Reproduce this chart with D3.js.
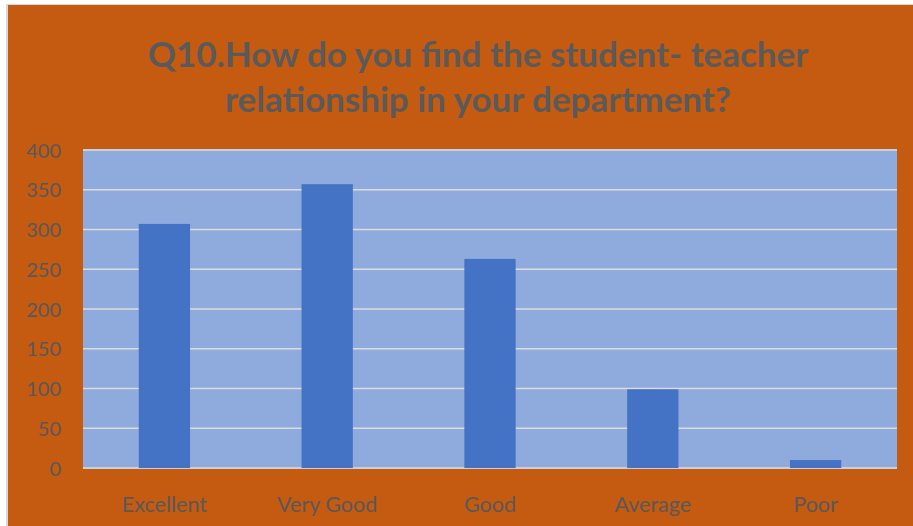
<!DOCTYPE html>
<html><head><meta charset="utf-8">
<script src="https://cdn.jsdelivr.net/npm/d3@7"></script>
<style>html,body{margin:0;padding:0;background:#fff;}svg{display:block;}</style>
</head><body>
<script>
const categories = ["Excellent", "Very Good", "Good", "Average", "Poor"];
const values = [307, 357, 263, 99, 10];
const yTicks = [0, 50, 100, 150, 200, 250, 300, 350, 400];
const titleLines = ["Q10.How do you find the student- teacher", "relationship in your department?"];

const W = 913, H = 526;
const svg = d3.select("body").append("svg").attr("width", W).attr("height", H);
svg.append("rect").attr("width", W).attr("height", H).attr("fill", "#fff");
svg.append("rect").attr("x", 6).attr("y", 4).attr("width", W - 6).attr("height", H - 4).attr("fill", "#d9d9d9");
svg.append("rect").attr("x", 8).attr("y", 5).attr("width", W - 8).attr("height", H - 5).attr("fill", "#C55A11");

const plot = {l: 83, r: 897, t: 150, b: 468};
const x = d3.scaleBand().domain(categories).range([plot.l, plot.r]).padding(0);
const y = d3.scaleLinear().domain([0, 400]).range([plot.b, plot.t]);

svg.append("rect").attr("x", plot.l).attr("y", plot.t - 1).attr("width", plot.r - plot.l).attr("height", plot.b - plot.t + 2).attr("fill", "#8FAADC");

svg.append("g").selectAll("line").data(yTicks).join("line")
  .attr("x1", plot.l).attr("x2", plot.r)
  .attr("y1", d => y(d)).attr("y2", d => y(d))
  .attr("stroke", "#dcdcdc").attr("stroke-width", 1.5);

const bw = x.step() * 0.315;
svg.append("g").selectAll("rect").data(values).join("rect")
  .attr("x", (d, i) => x(categories[i]) + x.bandwidth() / 2 - bw / 2)
  .attr("width", bw)
  .attr("y", d => y(d))
  .attr("height", d => y(0) - y(d))
  .attr("fill", "#4472C4");

const yAxis = d3.axisLeft(y).tickValues(yTicks).tickSize(0).tickPadding(0);
const ya = svg.append("g").attr("transform", `translate(${61},0)`).call(yAxis);
ya.select(".domain").remove();
ya.selectAll("text").attr("fill", "#595959").style("font-family", "Lato, 'Open Sans', sans-serif").style("font-size", "20px").attr("dy", "0.35em");

const xAxis = d3.axisBottom(x).tickSize(0).tickPadding(0);
const xa = svg.append("g").attr("transform", `translate(0,${512})`).call(xAxis);
xa.select(".domain").remove();
xa.selectAll("text").attr("fill", "#595959").style("font-family", "Lato, 'Open Sans', sans-serif").style("font-size", "21.5px").attr("y", 0).attr("dy", 0);

svg.append("g").selectAll("text").data(titleLines).join("text")
  .attr("x", 478).attr("y", (d, i) => 67 + i * 45)
  .attr("text-anchor", "middle")
  .attr("fill", "#5a5a5a")
  .style("font-family", "Lato, sans-serif").style("font-weight", "bold").style("font-size", "35px")
  .text(d => d);
</script>
</body></html>
